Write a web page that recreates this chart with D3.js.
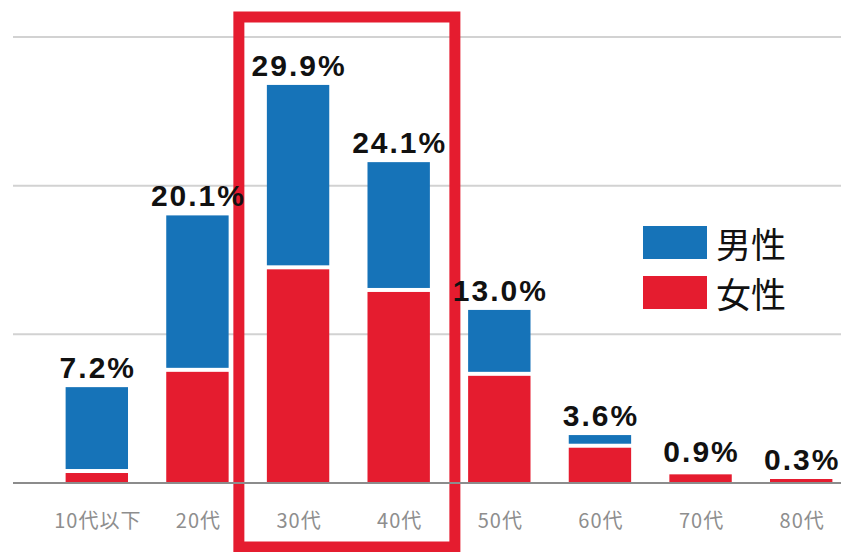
<!DOCTYPE html>
<html>
<head>
<meta charset="utf-8">
<script src="https://cdn.jsdelivr.net/npm/d3@7"></script>
<style>
  body { margin: 0; background: #fff; }
</style>
</head>
<body>
<script>
// Data (percent)
var ageGroups = ["10代以下", "20代", "30代", "40代", "50代", "60代", "70代", "80代"];
var femaleValues = [0.9, 8.5, 16.2, 14.5, 8.2, 2.8, 0.8, 0.3];
var maleValues = [6.3, 11.6, 13.7, 9.6, 4.8, 0.8, 0.1, 0];
var totalLabels = ["7.2%", "20.1%", "29.9%", "24.1%", "13.0%", "3.6%", "0.9%", "0.3%"];
var gridTicks = [11.17, 22.33, 33.5];
var legendItems = ["男性", "女性"];
var highlighted = ["30代", "40代"];

var svgWidth = 841;
var svgHeight = 552;
var blue = "#1673b8";
var red = "#e51c2f";
var gap = 2;

var svg = d3.select("body")
  .append("svg")
  .attr("width", svgWidth)
  .attr("height", svgHeight);

// Scales
var xBandScale = d3.scaleBand()
  .domain(ageGroups)
  .range([46.5, 851.5])
  .paddingInner(0.38)
  .paddingOuter(0.19);

var yLinearScale = d3.scaleLinear()
  .domain([0, 33.5])
  .range([483, 37]);

// Gridlines
svg.append("g")
  .selectAll("line")
  .data(gridTicks)
  .enter()
  .append("line")
  .attr("x1", 13)
  .attr("x2", svgWidth)
  .attr("y1", d => yLinearScale(d))
  .attr("y2", d => yLinearScale(d))
  .attr("stroke", "#d2d2d2")
  .attr("stroke-width", 2);

var rows = ageGroups.map(function(g, i) {
  return { group: g, female: femaleValues[i], male: maleValues[i], label: totalLabels[i] };
});

var bw = xBandScale.bandwidth();

// Female segments (bottom)
svg.append("g")
  .selectAll("rect")
  .data(rows)
  .enter()
  .append("rect")
  .attr("x", d => xBandScale(d.group))
  .attr("width", bw)
  .attr("y", function(d) {
    var top = yLinearScale(d.female);
    return d.male > 0 ? top + gap : top;
  })
  .attr("height", function(d) {
    var top = yLinearScale(d.female);
    var h = yLinearScale(0) - top;
    return d.male > 0 ? h - gap : h;
  })
  .attr("fill", red);

// Male segments (stacked on top)
svg.append("g")
  .selectAll("rect")
  .data(rows.filter(function(d) {
    return yLinearScale(d.female) - yLinearScale(d.female + d.male) - gap >= 1;
  }))
  .enter()
  .append("rect")
  .attr("x", d => xBandScale(d.group))
  .attr("width", bw)
  .attr("y", d => yLinearScale(d.female + d.male))
  .attr("height", d => yLinearScale(d.female) - yLinearScale(d.female + d.male) - gap)
  .attr("fill", blue);

// Highlight box around 30代 and 40代
var boxLeft = xBandScale(highlighted[0]) - 28;
var boxRight = xBandScale(highlighted[1]) + bw + 25;
svg.append("rect")
  .attr("x", boxLeft)
  .attr("y", 17)
  .attr("width", boxRight - boxLeft)
  .attr("height", 530)
  .attr("fill", "none")
  .attr("stroke", red)
  .attr("stroke-width", 11);

// Baseline
svg.append("line")
  .attr("x1", 13)
  .attr("x2", svgWidth)
  .attr("y1", yLinearScale(0))
  .attr("y2", yLinearScale(0))
  .attr("stroke", "#8c8c8c")
  .attr("stroke-width", 2);

// Value labels
svg.append("g")
  .selectAll("text")
  .data(rows)
  .enter()
  .append("text")
  .attr("x", d => xBandScale(d.group) + bw / 2 + 1)
  .attr("y", d => yLinearScale(d.female + d.male) - 9)
  .attr("text-anchor", "middle")
  .style("font-family", "'Liberation Sans', Arial, sans-serif")
  .style("font-weight", "bold")
  .style("font-size", "30px")
  .style("letter-spacing", "2px")
  .attr("fill", "#111")
  .text(d => d.label);

// Category labels
svg.append("g")
  .selectAll("text")
  .data(ageGroups)
  .enter()
  .append("text")
  .attr("x", d => xBandScale(d) + bw / 2 + 1)
  .attr("y", 528)
  .attr("text-anchor", "middle")
  .style("font-family", "'Noto Sans CJK JP', sans-serif")
  .style("font-size", "20px")
  .style("letter-spacing", "1px")
  .attr("fill", "#8e8e8e")
  .text(d => d);

// Legend
var legend = svg.append("g")
  .attr("transform", "translate(643, 226)");

legend.selectAll("rect")
  .data(legendItems)
  .enter()
  .append("rect")
  .attr("x", 0)
  .attr("y", (d, i) => i * 50)
  .attr("width", 64)
  .attr("height", 33)
  .attr("fill", (d, i) => i ? red : blue);

legend.selectAll("text")
  .data(legendItems)
  .enter()
  .append("text")
  .attr("x", 73)
  .attr("y", (d, i) => i * 50 + 32)
  .style("font-family", "'Noto Sans CJK JP', sans-serif")
  .style("font-size", "35px")
  .attr("fill", "#111")
  .text(d => d);
</script>
</body>
</html>
